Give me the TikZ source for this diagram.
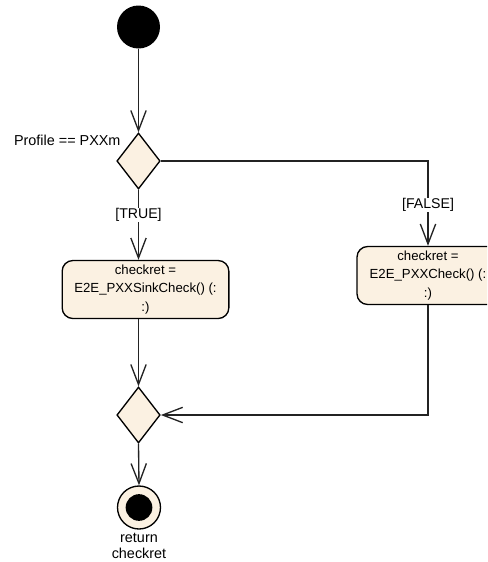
\documentclass[tikz,border=0pt]{standalone}
\usepackage{fontspec}
\setmainfont{Liberation Sans}
\usetikzlibrary{shapes.geometric,arrows.meta}

\definecolor{nodefill}{RGB}{251,241,226}
\definecolor{linecol}{RGB}{35,35,35}

\tikzset{every picture/.style={line width=0.75pt}}
\tikzset{
  flow/.style={draw=linecol, line width=1pt, -{Straight Barb[length=15pt,width=11.5pt,line width=1pt]}},
  decision/.style={diamond, draw=black, fill=nodefill, line width=1pt, inner sep=0pt, minimum width=32.5pt, minimum height=42pt},
  action/.style={rounded corners=8pt, draw=black, fill=nodefill, line width=1pt, align=center, font=\fontsize{9.9}{13.8}\selectfont, minimum height=42.75pt},
  guard/.style={fill=white, inner sep=0.5pt, font=\fontsize{10.6}{12}\selectfont},
  plain/.style={inner sep=0.75pt, font=\fontsize{10.8}{12.5}\selectfont}
}

\begin{document}
\begin{tikzpicture}[x=0.75pt,y=0.75pt,yscale=-1,xscale=1]
\clip (0,0) rectangle (487,562); %set diagram size

%Shape: Circle [id:start]
\node [circle, fill=black, inner sep=0pt, minimum size=32.25pt] (start) at (138.5,27) {};
%Shape: Diamond [id:dec1]
\node [decision] (dec1) at (138.5,161) {};
%Shape: Rounded Rect [id:sink]
\node [action, minimum width=125pt] (sink) at (145.5,289.5) {checkret =\\E2E\_PXXSinkCheck() (:\\:)};
%Shape: Rounded Rect [id:check]
\node [action, minimum width=106.5pt] (check) at (428,275.5) {checkret =\\E2E\_PXXCheck() (:\\:)};
%Shape: Diamond [id:dec2]
\node [decision] (dec2) at (138.5,415) {};
%Shape: Circle [id:final]
\node [circle, draw=black, fill=nodefill, line width=1pt, inner sep=0pt, minimum size=32.25pt] (final) at (139,507.5) {};
\node [circle, fill=black, inner sep=0pt, minimum size=20pt] (finaldot) at (final) {};

% Text Node
\node [plain, anchor=east] (cond) at (122,140) {Profile == PXXm};
% Text Node
\node [plain, align=center] (ret) at (139,546) {return\\checkret};

%Straight Lines [id:flows]
\draw [flow] (start) -- (dec1.north);
\draw [flow] (dec1.south) -- node [guard, pos=0.36] {[TRUE]} (dec1.south |- sink.north);
\draw [flow] (dec1.east) -| node [guard, pos=0.76] {[FALSE]} (check.north);
\draw [flow] (dec2.north |- sink.south) -- (dec2.north);
\draw [flow] (check.south) |- (dec2.east);
\draw [flow] (dec2.south) -- (final.north);

\end{tikzpicture}
\end{document}
